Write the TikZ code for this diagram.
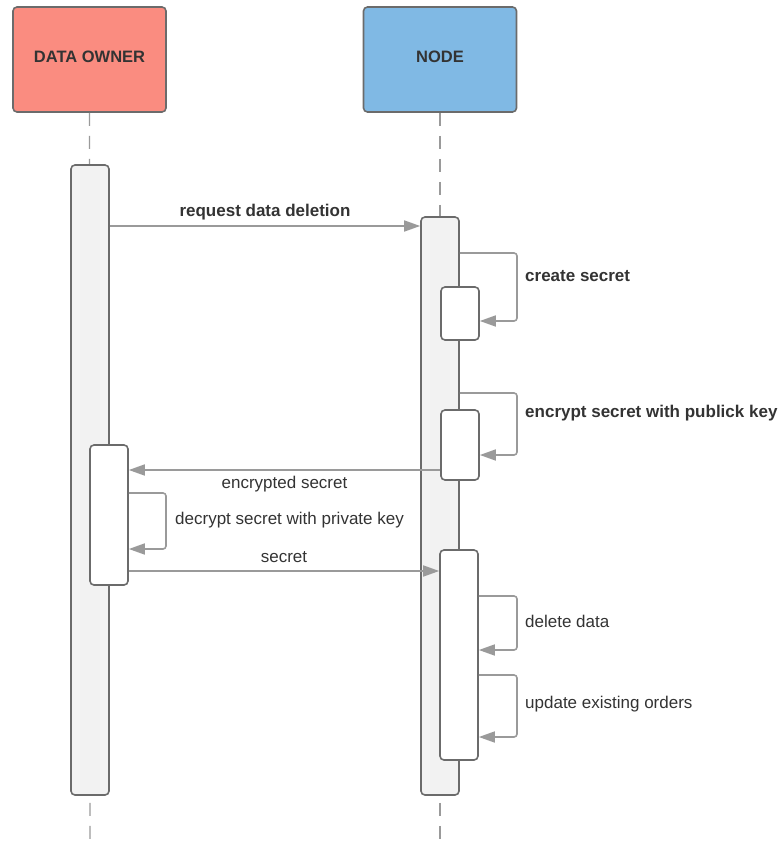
\documentclass[tikz,border=0pt]{standalone}
\usepackage{fontspec}
\setmainfont{Liberation Sans}
\usetikzlibrary{arrows.meta,calc}
\definecolor{ownerred}{HTML}{FA8C80}
\definecolor{nodeblue}{HTML}{80B9E4}
\definecolor{edgegray}{HTML}{6B6B6B}
\definecolor{arrowgray}{HTML}{9A9A9A}
\definecolor{barfill}{HTML}{F2F2F2}
\definecolor{txt}{HTML}{333333}
\tikzset{
  actor/.style={draw=edgegray, line width=1.6pt, rounded corners=4pt, minimum width=153pt, minimum height=105pt, inner sep=0pt, font=\fontsize{16.5}{18}\selectfont\bfseries, text=txt},
  actbar/.style={draw=edgegray, line width=1.6pt, rounded corners=4pt, fill=barfill, minimum width=38pt, inner sep=0pt},
  subbar/.style={draw=edgegray, line width=1.6pt, rounded corners=4pt, fill=white, minimum width=38pt, inner sep=0pt},
  lifeline/.style={draw=arrowgray, line width=1.4pt, dash pattern=on 13pt off 10pt},
  msg/.style={draw=arrowgray, line width=1.6pt, -{Triangle[length=16pt,width=11pt]}},
  selfmsg/.style={msg, rounded corners=3pt},
  lbl/.style={font=\fontsize{17}{19}\selectfont, text=txt, inner sep=0pt},
  blbl/.style={lbl, font=\fontsize{17}{19}\selectfont\bfseries}
}
\begin{document}
\begin{tikzpicture}[x=1pt,y=-1pt]
\useasboundingbox (0,0) rectangle (781,845);
% actors
\node[actor, fill=ownerred] (owner) at (89.5,59.5) {};
\node[actor, fill=nodeblue] (node) at (440,59.5) {};
\node[font=\fontsize{16.5}{18}\selectfont\bfseries, text=txt, inner sep=0pt] (ownertitle) at (owner.center |- 0,57) {DATA OWNER};
\node[font=\fontsize{16.5}{18}\selectfont\bfseries, text=txt, inner sep=0pt] (nodetitle) at (node.center |- 0,57) {NODE};
% lifeline end points
\coordinate (ownerend) at (90,845);
\coordinate (nodeend) at (440,845);
\draw[lifeline] (owner.south) -- (ownerend);
\draw[lifeline] (node.south) -- (nodeend);
% activation bars
\node[actbar, minimum height=630pt] (ownerbar) at (90,480) {};
\node[actbar, minimum height=578pt] (nodebar) at (440,506) {};
\node[subbar, minimum height=53pt] (create) at (460,313.5) {};
\node[subbar, minimum height=70pt] (encrypt) at (460,445) {};
\node[subbar, minimum height=140pt] (decrypt) at (109,515) {};
\node[subbar, minimum height=210pt] (process) at (459,655) {};
% messages
\draw[msg] (ownerbar.east |- 0,226) -- node[blbl, above=5pt] {request data deletion} (nodebar.west |- 0,226);
\draw[selfmsg] (nodebar.east |- 0,253) -| (517,321) -- (create.east |- 0,321);
\node[blbl, anchor=west] (lcreate) at (525,276) {create secret};
\draw[selfmsg] (nodebar.east |- 0,393) -| (517,455) -- (encrypt.east |- 0,455);
\node[blbl, anchor=west] (lencrypt) at (525,413) {encrypt secret with publick key};
\draw[msg] (encrypt.west |- 0,470) -- node[lbl, below=5pt] {encrypted secret} (decrypt.east |- 0,470);
\draw[selfmsg] (decrypt.east |- 0,493) -| (166,549) -- (decrypt.east |- 0,549);
\node[lbl, anchor=west] (ldecrypt) at (175,520) {decrypt secret with private key};
\draw[msg] (decrypt.east |- 0,571) -- node[lbl, above=8pt] {secret} (process.west |- 0,571);
\draw[selfmsg] (process.east |- 0,596) -| (517,650) -- (process.east |- 0,650);
\node[lbl, anchor=west] (ldelete) at (525,621) {delete data};
\draw[selfmsg] (process.east |- 0,675) -| (517,737) -- (process.east |- 0,737);
\node[lbl, anchor=west] (lupdate) at (525,704) {update existing orders};
\end{tikzpicture}
\end{document}
